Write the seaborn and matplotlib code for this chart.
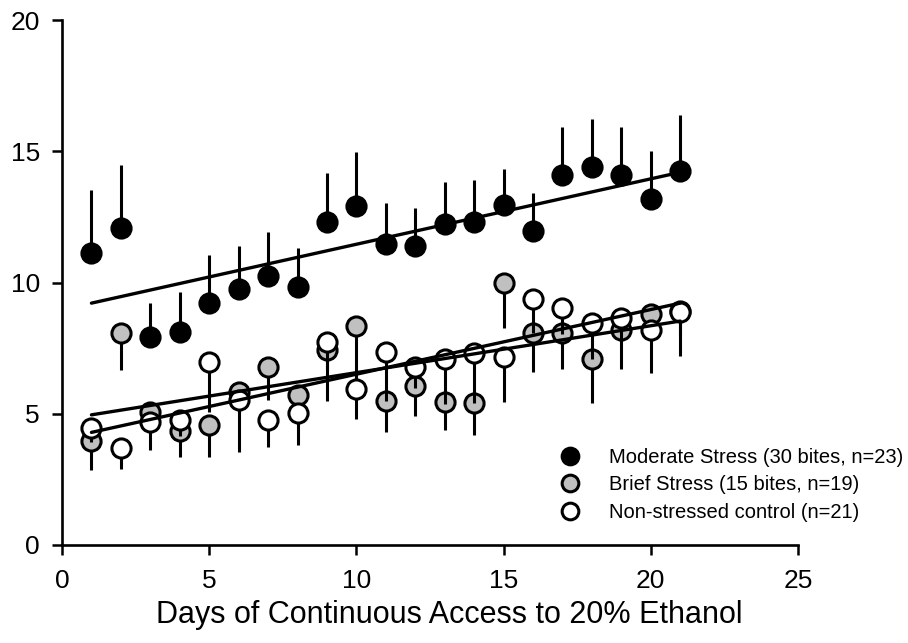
import matplotlib
matplotlib.use("Agg")
import matplotlib.pyplot as plt
import seaborn as sns
import numpy as np
from matplotlib.lines import Line2D

days = list(range(1, 22))
moderate = [11.11, 12.06, 7.94, 8.10, 9.21, 9.74, 10.25, 9.84, 12.32, 12.93, 11.46,
            11.39, 12.22, 12.30, 12.95, 11.96, 14.10, 14.41, 14.10, 13.18, 14.26]
moderate_err = [2.40, 2.40, 1.27, 1.55, 1.84, 1.65, 1.66, 1.46, 1.86, 2.03, 1.56,
                1.44, 1.62, 1.60, 1.39, 1.46, 1.84, 1.81, 1.84, 1.83, 2.11]
brief = [3.96, 8.09, 5.05, 4.36, 4.57, 5.84, 6.79, 5.71, 7.43, 8.36, 5.49,
         6.07, 5.43, 5.40, 9.99, 8.09, 8.06, 7.07, 8.19, 8.79, 8.90]
brief_err = [1.10, 1.42, 0.60, 1.02, 1.21, 0.80, 1.27, 0.80, 1.93, 2.40, 1.17,
             1.14, 1.05, 1.21, 1.71, 1.49, 1.37, 1.67, 1.50, 0.90, 0.90]
control = [4.44, 3.71, 4.70, 4.76, 6.96, 5.52, 4.76, 5.04, 7.72, 5.93, 7.37,
           6.79, 7.09, 7.30, 7.17, 9.37, 9.02, 8.47, 8.64, 8.19, 8.86]
control_err = [0.50, 0.83, 1.08, 0.60, 1.88, 1.96, 1.01, 1.23, 1.00, 1.13, 1.90,
               0.80, 1.70, 1.90, 1.71, 1.30, 1.00, 1.40, 0.90, 1.65, 1.66]

labels = ["Moderate Stress (30 bites, n=23)", "Brief Stress (15 bites, n=19)",
          "Non-stressed control (n=21)"]
fills = ["black", "#c0c0c0", "white"]
xticks = [0, 5, 10, 15, 20, 25]
yticks = [0, 5, 10, 15, 20]
xlabel = "Days of Continuous Access to 20% Ethanol"

sns.set_theme(style="ticks")
plt.rcParams['font.family'] = ['Liberation Sans', 'DejaVu Sans']
plt.rcParams['text.color'] = 'black'
plt.rcParams['axes.labelcolor'] = 'black'
plt.rcParams['xtick.color'] = 'black'
plt.rcParams['ytick.color'] = 'black'

fig = plt.figure(figsize=(9.08, 6.43), dpi=100)
ax = fig.add_axes([62/908, 1-545/643, (798-62)/908, (545-20)/643])

series = [(moderate, moderate_err, 'up'), (brief, brief_err, 'down'), (control, control_err, 'down')]
z = 2
for (vals, errs, direction), fc, lab in zip(series, fills, labels):
    zeros = [0]*len(errs)
    yerr = [zeros, errs] if direction == 'up' else [errs, zeros]
    ax.errorbar(days, vals, yerr=yerr, fmt='none', ecolor='black', elinewidth=2.2,
                capsize=0, zorder=z)
    sns.scatterplot(x=days, y=vals, color=fc, edgecolor='black', linewidth=2.2,
                    s=190, ax=ax, zorder=z+0.5, legend=False)
    z += 1

for vals in [moderate, brief, control]:
    sns.regplot(x=days, y=vals, scatter=False, ci=None, truncate=True, ax=ax,
                color='black', line_kws={'lw': 2.4, 'zorder': 10})

ax.set_xlim(0, 25)
ax.set_ylim(0, 20)
ax.set_xticks(xticks)
ax.set_yticks(yticks)
ax.tick_params(axis='both', length=7, width=1.8, labelsize=19, color='black',
               labelcolor='black', pad=9)
ax.tick_params(axis='x', pad=10)
for s in ['left', 'bottom']:
    ax.spines[s].set_linewidth(1.9)
    ax.spines[s].set_color('black')
sns.despine(ax=ax)
ax.set_xlabel(xlabel, fontsize=22, color='black')
ax.xaxis.set_label_coords((449-62)/736, -0.105)
ax.set_ylabel("")

handles = [Line2D([0], [0], marker='o', linestyle='none', markersize=12,
                  markerfacecolor=fc, markeredgecolor='black', markeredgewidth=2.2)
           for fc in fills]
leg = ax.legend(handles, labels, loc='upper left', bbox_to_anchor=(0.674, 0.185),
                frameon=False, fontsize=14.5, handletextpad=1.35, labelspacing=0.42,
                borderpad=0, handlelength=1.2, borderaxespad=0)
for t in leg.get_texts():
    t.set_color('black')

fig.savefig("out.png", dpi=100)
